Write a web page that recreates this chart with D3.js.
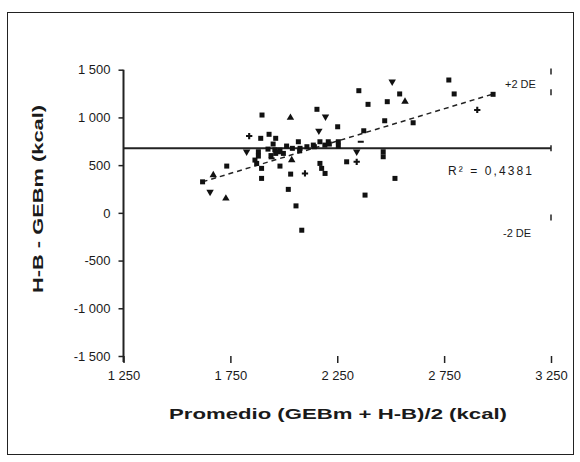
<!DOCTYPE html>
<html><head><meta charset="utf-8">
<script src="https://cdn.jsdelivr.net/npm/d3@7"></script>
<style>body{margin:0;background:#fff}svg{display:block}text{font-family:"Liberation Sans",Arial,sans-serif;fill:#1a1a1a}</style>
</head><body>
<script>
const xTicks=[1250,1750,2250,2750,3250];
const yTicks=[-1500,-1000,-500,0,500,1000,1500];
const squares=[[2772,1392],[2797,1246],[2542,1246],[2484,1165],[2394,1137],[2351,1280],[2155,1085],[1898,1025],[2252,902],[2472,965],[2605,944],[2979,1242],[2374,860],[1892,781],[1931,823],[1962,781],[1950,721],[1881,640],[1881,595],[1873,518],[1896,466],[1896,361],[1982,658],[1998,623],[1982,490],[2013,700],[2032,406],[2076,676],[2068,745],[2021,246],[2057,73],[2084,-182],[2138,710],[2169,745],[2208,745],[2255,745],[2255,700],[2169,518],[2177,466],[2193,413],[2294,535],[2380,186],[2465,640],[2465,588],[2520,361],[1620,325],[1733,490],[1926,668],[1962,623],[2040,676],[2074,650],[2108,693],[2143,693],[2192,710],[2213,721],[1958,660],[1975,640],[1940,600],[1865,553]];
const trianglesUp=[[2567,1165],[2031,997],[1670,396],[1729,151],[2037,553]];
const trianglesDown=[[2507,1375],[2195,1007],[2164,860],[1655,220],[1826,640],[2341,640]];
const pluses=[[1838,805],[2099,413],[2341,535],[2905,1078]];
const dashes=[[1943,571],[2360,745]];
const meanDiff=676;
const regLine=[[1620,325],[2990,1253]];
const limitCaps=[1480,1265,-50];
const labelUpper="+2 DE", labelLower="-2 DE", labelFit="R² = 0,4381";
const xTitle="Promedio (GEBm + H-B)/2 (kcal)", yTitle="H-B - GEBm (kcal)";

const W=580,H=462;
const svg=d3.select("body").append("svg").attr("width",W).attr("height",H);
svg.append("rect").attr("x",7.5).attr("y",12.5).attr("width",566).attr("height",442).attr("fill","none").attr("stroke","#222").attr("stroke-width",1);
const x=d3.scaleLinear().domain([1250,3250]).range([123.5,551]);
const y=d3.scaleLinear().domain([-1500,1500]).range([356,69.7]);
const fmt=d=>{const s=Math.abs(d).toString().replace(/\B(?=(\d{3})+(?!\d))/g," ");return (d<0?"-":"")+s;};

// y axis
const ya=svg.append("g").attr("transform",`translate(${x(1250)},0)`).call(d3.axisLeft(y).tickValues(yTicks).tickSize(5).tickPadding(8).tickFormat(fmt));
ya.select(".domain").remove();
ya.selectAll("line").attr("stroke","#222").attr("stroke-width",1.5);
ya.selectAll("text").attr("font-size",13).attr("fill","#1a1a1a").attr("font-family","Liberation Sans, Arial");
svg.append("line").attr("x1",x(1250)).attr("x2",x(1250)).attr("y1",y(1500)).attr("y2",y(-1500)+6).attr("stroke","#222").attr("stroke-width",2);

// x axis ticks (no domain line)
const xa=svg.append("g").attr("transform",`translate(0,${y(-1500)})`).call(d3.axisBottom(x).tickValues(xTicks).tickSize(7).tickPadding(8).tickFormat(fmt));
xa.select(".domain").remove();
xa.selectAll("line").attr("stroke","#222").attr("stroke-width",1.5);
xa.selectAll("text").attr("font-size",13).attr("fill","#1a1a1a").attr("font-family","Liberation Sans, Arial");

// mean line
svg.append("line").attr("x1",x(1250)).attr("x2",x(3250)).attr("y1",y(meanDiff)).attr("y2",y(meanDiff)).attr("stroke","#222").attr("stroke-width",2);
svg.selectAll(".cap").data(limitCaps.concat([meanDiff])).join("line").attr("x1",x(3250)).attr("x2",x(3250)).attr("y1",d=>y(d)-3).attr("y2",d=>y(d)+3).attr("stroke","#222").attr("stroke-width",1.5);

// regression line
svg.append("line").attr("x1",x(regLine[0][0])).attr("y1",y(regLine[0][1])).attr("x2",x(regLine[1][0])).attr("y2",y(regLine[1][1])).attr("stroke","#222").attr("stroke-width",1.5).attr("stroke-dasharray","5,4");

// markers
const g=svg.append("g").attr("fill","#111");
g.selectAll(".sq").data(squares).join("rect").attr("x",d=>x(d[0])-2.5).attr("y",d=>y(d[1])-2.5).attr("width",5).attr("height",5);
const tri=d3.symbol().type(d3.symbolTriangle).size(24);
g.selectAll(".tu").data(trianglesUp).join("path").attr("d",tri).attr("transform",d=>`translate(${x(d[0])},${y(d[1])})`);
g.selectAll(".td").data(trianglesDown).join("path").attr("d",tri).attr("transform",d=>`translate(${x(d[0])},${y(d[1])}) rotate(180)`);
g.selectAll(".pl").data(pluses).join("path").attr("d",d3.symbol().type(d3.symbolCross).size(22)).attr("transform",d=>`translate(${x(d[0])},${y(d[1])})`);
g.selectAll(".ds").data(dashes).join("rect").attr("x",d=>x(d[0])-3).attr("y",d=>y(d[1])-1).attr("width",6).attr("height",2);

// annotations
svg.append("text").attr("x",x(3250)-46).attr("y",y(1500)+18).attr("font-size",11).text(labelUpper);
svg.append("text").attr("x",x(3250)-48).attr("y",y(-50)+19).attr("font-size",11).text(labelLower);
svg.append("text").attr("x",x(3250)-103).attr("y",y(meanDiff)+27).attr("font-size",12).attr("textLength",84).attr("lengthAdjust","spacing").text(labelFit);

// titles
svg.append("text").attr("x",338).attr("y",419).attr("text-anchor","middle").attr("font-size",15).attr("font-weight","bold").attr("textLength",338).attr("lengthAdjust","spacingAndGlyphs").text(xTitle);
svg.append("text").attr("transform","translate(43,199) rotate(-90)").attr("text-anchor","middle").attr("font-size",15).attr("font-weight","bold").attr("textLength",188).attr("lengthAdjust","spacingAndGlyphs").text(yTitle);
</script>
</body></html>
